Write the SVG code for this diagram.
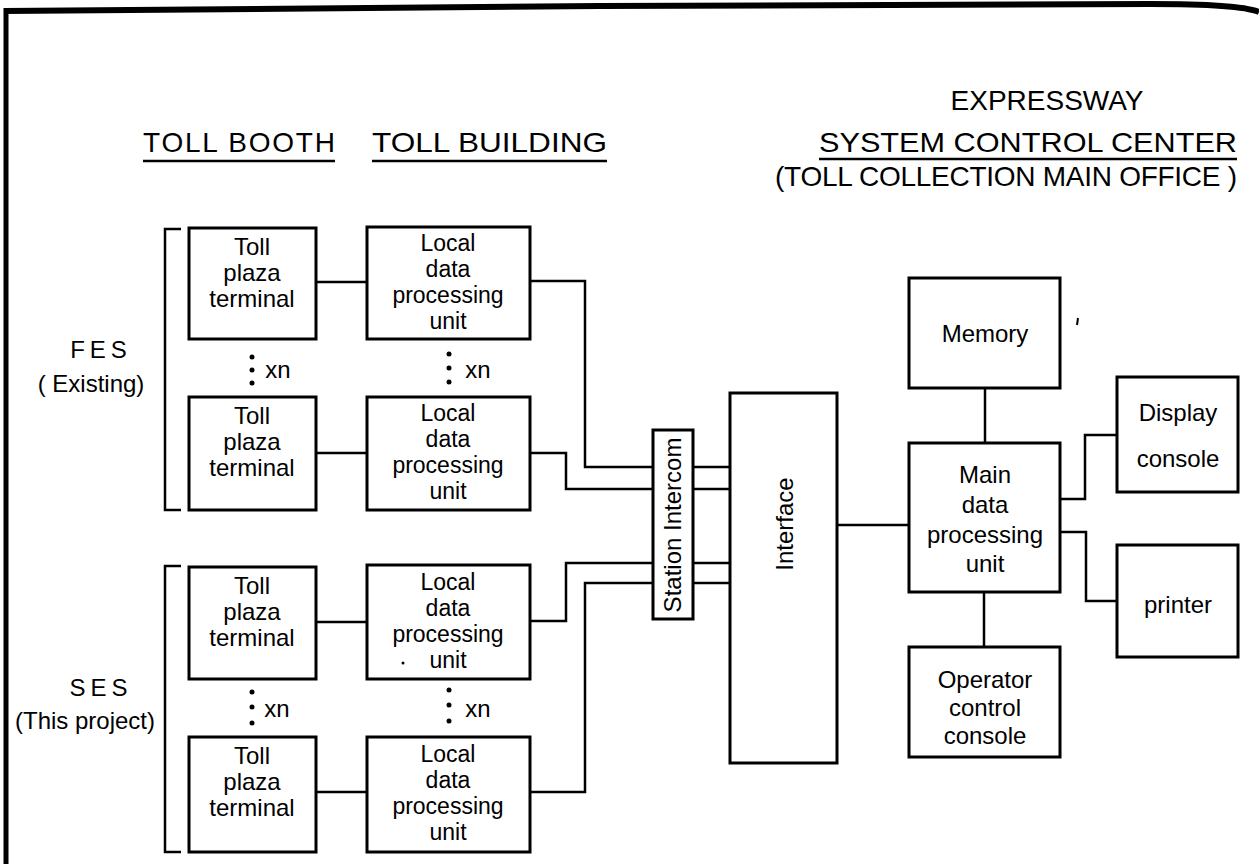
<svg xmlns="http://www.w3.org/2000/svg" width="1259" height="864" viewBox="0 0 1259 864">
<style>
.box{fill:#fff;stroke:#000;stroke-width:3}
.ln{fill:none;stroke:#000;stroke-width:2.5}
.t{font-family:"Liberation Sans",Arial,sans-serif;font-size:24px;fill:#000;text-anchor:middle}
.s{font-family:"Liberation Sans",Arial,sans-serif;font-size:23px;fill:#000;text-anchor:middle}
.h{font-family:"Liberation Sans",Arial,sans-serif;font-size:28px;fill:#000}
.lab{font-family:"Liberation Sans",Arial,sans-serif;font-size:24px;fill:#000;text-anchor:middle}
.dot{fill:#000}
</style>
<rect width="1259" height="864" fill="#fff"/>
<g id="frame">
<path d="M4,11 L600,6 L1150,4 Q1240,4 1259,12" fill="none" stroke="#000" stroke-width="6"/>
<line x1="6" y1="8" x2="6" y2="864" stroke="#000" stroke-width="5"/>
</g>
<g id="headers">
<text class="h" x="143" y="152" textLength="192" lengthAdjust="spacing">TOLL BOOTH</text>
<line x1="143" y1="161" x2="335" y2="161" stroke="#000" stroke-width="2.5"/>
<text class="h" x="372" y="152" textLength="235" lengthAdjust="spacingAndGlyphs">TOLL BUILDING</text>
<line x1="372" y1="161" x2="607" y2="161" stroke="#000" stroke-width="2.5"/>
<text class="h" x="1047" y="110" text-anchor="middle">EXPRESSWAY</text>
<text class="h" x="819" y="152" textLength="418" lengthAdjust="spacingAndGlyphs">SYSTEM CONTROL CENTER</text>
<line x1="819" y1="159" x2="1237" y2="159" stroke="#000" stroke-width="2.5"/>
<text class="h" x="775" y="186" font-size="23" textLength="462" lengthAdjust="spacing">(TOLL COLLECTION MAIN OFFICE )</text>
</g>
<g id="group-labels">
<text class="lab" x="101" y="358" letter-spacing="5">FES</text>
<text class="lab" x="91" y="392">( Existing)</text>
<text class="lab" x="101" y="696" letter-spacing="5">SES</text>
<text class="lab" x="85" y="729">(This project)</text>
<path class="ln" d="M181,229 H165 V510 H181"/>
<path class="ln" d="M181,566 H165 V852 H181"/>
</g>
<g id="connectors">
<path class="ln" d="M316,282 H367"/>
<path class="ln" d="M316,453 H367"/>
<path class="ln" d="M316,622 H367"/>
<path class="ln" d="M316,792 H367"/>
<path class="ln" d="M530,281 H585 V467 H653"/>
<path class="ln" d="M530,453 H566 V489 H653"/>
<path class="ln" d="M530,621 H566 V563 H653"/>
<path class="ln" d="M530,792 H585 V583 H653"/>
<path class="ln" d="M693,467 H730 M693,489 H730 M693,563 H730 M693,583 H730"/>
<path class="ln" d="M837,525 H909"/>
<path class="ln" d="M985,388 V443"/>
<path class="ln" d="M984,592 V647"/>
<path class="ln" d="M1060,499 H1085 V435 H1117"/>
<path class="ln" d="M1060,532 H1086 V601 H1117"/>
</g>
<g id="toll1"><rect class="box" x="189" y="228" width="127" height="111"/>
<text class="t" x="252" y="255">Toll</text><text class="t" x="252" y="281">plaza</text><text class="t" x="252" y="307">terminal</text></g>
<g id="toll2"><rect class="box" x="189" y="397" width="127" height="113"/>
<text class="t" x="252" y="424">Toll</text><text class="t" x="252" y="450">plaza</text><text class="t" x="252" y="476">terminal</text></g>
<g id="toll3"><rect class="box" x="189" y="567" width="127" height="112"/>
<text class="t" x="252" y="594">Toll</text><text class="t" x="252" y="620">plaza</text><text class="t" x="252" y="646">terminal</text></g>
<g id="toll4"><rect class="box" x="189" y="737" width="127" height="115"/>
<text class="t" x="252" y="764">Toll</text><text class="t" x="252" y="790">plaza</text><text class="t" x="252" y="816">terminal</text></g>
<g id="local1"><rect class="box" x="367" y="227" width="163" height="112"/>
<text class="s" x="448" y="251">Local</text><text class="s" x="448" y="277">data</text><text class="s" x="448" y="303">processing</text><text class="s" x="448" y="329">unit</text></g>
<g id="local2"><rect class="box" x="367" y="397" width="163" height="113"/>
<text class="s" x="448" y="421">Local</text><text class="s" x="448" y="447">data</text><text class="s" x="448" y="473">processing</text><text class="s" x="448" y="499">unit</text></g>
<g id="local3"><rect class="box" x="367" y="565" width="163" height="114"/>
<text class="s" x="448" y="590">Local</text><text class="s" x="448" y="616">data</text><text class="s" x="448" y="642">processing</text><text class="s" x="448" y="668">unit</text>
<circle class="dot" cx="403" cy="663" r="1.5"/></g>
<g id="local4"><rect class="box" x="367" y="737" width="163" height="115"/>
<text class="s" x="448" y="762">Local</text><text class="s" x="448" y="788">data</text><text class="s" x="448" y="814">processing</text><text class="s" x="448" y="840">unit</text></g>
<g id="xn-marks">
<circle class="dot" cx="252" cy="357" r="2.5"/><circle class="dot" cx="252" cy="370" r="2.5"/><circle class="dot" cx="252" cy="383" r="2.5"/>
<text class="lab" x="278" y="378">xn</text>
<circle class="dot" cx="449" cy="354" r="2.5"/><circle class="dot" cx="449" cy="368" r="2.5"/><circle class="dot" cx="449" cy="382" r="2.5"/>
<text class="lab" x="478" y="378">xn</text>
<circle class="dot" cx="252" cy="692" r="2.5"/><circle class="dot" cx="252" cy="707" r="2.5"/><circle class="dot" cx="252" cy="723" r="2.5"/>
<text class="lab" x="277" y="717">xn</text>
<circle class="dot" cx="449" cy="690" r="2.5"/><circle class="dot" cx="449" cy="705" r="2.5"/><circle class="dot" cx="449" cy="721" r="2.5"/>
<text class="lab" x="478" y="717">xn</text>
</g>
<g id="intercom"><rect class="box" x="653" y="430" width="40" height="189"/>
<text class="t" font-size="21" transform="translate(681,525) rotate(-90)">Station Intercom</text></g>
<g id="interface"><rect class="box" x="730" y="393" width="107" height="370"/>
<text class="t" font-size="28" transform="translate(793,524) rotate(-90)">Interface</text></g>
<g id="memory"><rect class="box" x="909" y="278" width="151" height="110"/>
<text class="t" x="985" y="342">Memory</text></g>
<path d="M1078,318 l-1,7" stroke="#000" stroke-width="2"/>
<g id="main"><rect class="box" x="909" y="443" width="151" height="149"/>
<text class="t" x="985" y="483">Main</text><text class="t" x="985" y="513">data</text><text class="t" x="985" y="543">processing</text><text class="t" x="985" y="572">unit</text></g>
<g id="operator"><rect class="box" x="909" y="647" width="151" height="110"/>
<text class="t" x="985" y="688">Operator</text><text class="t" x="985" y="716">control</text><text class="t" x="985" y="744">console</text></g>
<g id="display"><rect class="box" x="1117" y="377" width="121" height="115"/>
<text class="t" x="1178" y="421">Display</text><text class="t" x="1178" y="467">console</text></g>
<g id="printer"><rect class="box" x="1117" y="545" width="121" height="112"/>
<text class="t" x="1178" y="613">printer</text></g>
</svg>
